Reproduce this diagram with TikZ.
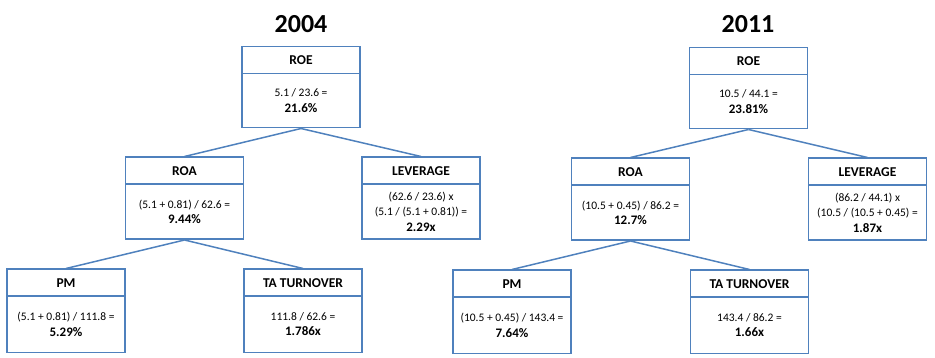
\documentclass[tikz,border=0pt]{standalone}
\usepackage{fontspec}
\setmainfont{Carlito}
\definecolor{boxblue}{HTML}{4F81BD}
\begin{document}
\begin{tikzpicture}[x=1pt,y=-1pt,
  hdr/.style={draw=boxblue, line width=1.5pt, minimum width=118pt, minimum height=27pt, inner sep=0pt, anchor=north, font=\fontsize{13.5}{16}\selectfont\bfseries},
  bdy/.style={draw=boxblue, line width=1.5pt, minimum width=118pt, minimum height=55pt, inner sep=0pt, anchor=north, align=center, font=\fontsize{11.5}{15.5}\selectfont},
  conn/.style={draw=boxblue, line width=1.5pt},
  ttl/.style={font=\fontsize{26}{30}\selectfont\bfseries, inner sep=0pt, anchor=base}]
\useasboundingbox (0,0) rectangle (935,358);
\newcommand{\bv}[1]{{\fontsize{13}{15.5}\selectfont\bfseries #1}}
% titles
\node[ttl] (t1) at (301,33) {2004};
\node[ttl] (t2) at (748,33) {2011};
% ---------- 2004 ----------
\node[hdr] (roeAh) at (301,46) {ROE};
\node[bdy, minimum height=54pt] (roeAb) at (301,73) {5.1 / 23.6 =\\\bv{21.6\%}};
\node[hdr] (roaAh) at (184.5,156.5) {ROA};
\node[bdy] (roaAb) at (184.5,183.5) {(5.1 + 0.81) / 62.6 =\\\bv{9.44\%}};
\node[hdr] (levAh) at (421,156.5) {LEVERAGE};
\node[bdy] (levAb) at (421,183.5) {(62.6 / 23.6) x\\(5.1 / (5.1 + 0.81)) =\\\bv{2.29x}};
\node[hdr] (pmAh) at (66,268.5) {PM};
\node[bdy, minimum height=56pt] (pmAb) at (66,295.5) {(5.1 + 0.81) / 111.8 =\\\bv{5.29\%}};
\node[hdr] (taAh) at (303,268.5) {TA TURNOVER};
\node[bdy, minimum height=56pt] (taAb) at (303,295.5) {111.8 / 62.6 =\\\bv{1.786x}};
% ---------- 2011 ----------
\node[hdr] (roeBh) at (748.5,47) {ROE};
\node[bdy, minimum height=54pt] (roeBb) at (748.5,74) {10.5 / 44.1 =\\\bv{23.81\%}};
\node[hdr] (roaBh) at (630.5,157.5) {ROA};
\node[bdy] (roaBb) at (630.5,184.5) {(10.5 + 0.45) / 86.2 =\\\bv{12.7\%}};
\node[hdr] (levBh) at (867.5,157.5) {LEVERAGE};
\node[bdy] (levBb) at (867.5,184.5) {(86.2 / 44.1) x\\(10.5 / (10.5 + 0.45) =\\\bv{1.87x}};
\node[hdr] (pmBh) at (512,269.5) {PM};
\node[bdy, minimum height=56pt] (pmBb) at (512,296.5) {(10.5 + 0.45) / 143.4 =\\\bv{7.64\%}};
\node[hdr] (taBh) at (749.5,269.5) {TA TURNOVER};
\node[bdy, minimum height=56pt] (taBb) at (749.5,296.5) {143.4 / 86.2 =\\\bv{1.66x}};
% connectors
\draw[conn] (roeAb.south) -- (roaAh.north);
\draw[conn] (roeAb.south) -- (levAh.north);
\draw[conn] (roaAb.south) -- (pmAh.north);
\draw[conn] (roaAb.south) -- (taAh.north);
\draw[conn] (roeBb.south) -- (roaBh.north);
\draw[conn] (roeBb.south) -- (levBh.north);
\draw[conn] (roaBb.south) -- (pmBh.north);
\draw[conn] (roaBb.south) -- (taBh.north);
\end{tikzpicture}
\end{document}
